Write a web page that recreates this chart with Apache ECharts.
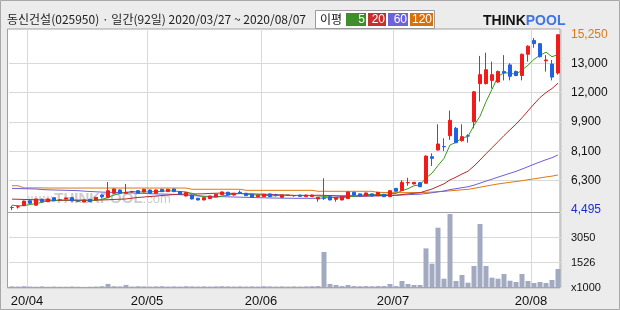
<!DOCTYPE html>
<html><head><meta charset="utf-8">
<script src="https://cdn.jsdelivr.net/npm/echarts@6/dist/echarts.min.js"></script>
<style>html,body{margin:0;padding:0;background:#ececec}#c{width:620px;height:310px}</style>
</head><body><div id="c"></div>
<script>
// ---- data ----
const dates = [
'2020-03-27','2020-03-30','2020-03-31',
'2020-04-01','2020-04-02','2020-04-03','2020-04-06','2020-04-07','2020-04-08','2020-04-09','2020-04-10','2020-04-13','2020-04-14',
'2020-04-16','2020-04-17','2020-04-20','2020-04-21','2020-04-22','2020-04-23','2020-04-24','2020-04-27','2020-04-28','2020-04-29',
'2020-05-04','2020-05-06','2020-05-07','2020-05-08','2020-05-11','2020-05-12','2020-05-13','2020-05-14','2020-05-15','2020-05-18',
'2020-05-19','2020-05-20','2020-05-21','2020-05-22','2020-05-25','2020-05-26','2020-05-27','2020-05-28','2020-05-29',
'2020-06-01','2020-06-02','2020-06-03','2020-06-04','2020-06-05','2020-06-08','2020-06-09','2020-06-10','2020-06-11','2020-06-12',
'2020-06-15','2020-06-16','2020-06-17','2020-06-18','2020-06-19','2020-06-22','2020-06-23','2020-06-24','2020-06-25','2020-06-26',
'2020-06-29','2020-06-30',
'2020-07-01','2020-07-02','2020-07-03','2020-07-06','2020-07-07','2020-07-08','2020-07-09','2020-07-10','2020-07-13','2020-07-14',
'2020-07-15','2020-07-16','2020-07-17','2020-07-20','2020-07-21','2020-07-22','2020-07-23','2020-07-24','2020-07-27','2020-07-28',
'2020-07-29','2020-07-30','2020-07-31',
'2020-08-03','2020-08-04','2020-08-05','2020-08-06','2020-08-07'];
const opens = [
4650,4690,4770,5070,4800,5160,5010,5260,5110,5180,
5260,5060,4990,5160,5120,5420,5280,5530,5730,5530,
5610,5690,5610,5730,5530,5770,5630,5790,5630,5360,
5420,5220,5120,5200,5320,5440,5590,5420,5590,5530,
5470,5320,5320,5490,5430,5280,5400,5380,5420,5320,
5330,5180,5240,5320,5160,5120,5200,5590,5490,5380,
5490,5380,5470,5320,5830,5690,6170,6100,6180,6140,
7770,8180,8400,9060,9510,8750,9050,9920,12250,12250,
12450,12350,13000,13400,13000,12750,14050,14900,14700,13650,
13450,12900];
const closes = [
4660,4700,5050,4915,5180,5010,5180,5070,5120,5240,
5060,5040,5120,5010,5280,5320,5690,5790,5530,5590,
5630,5530,5770,5530,5730,5630,5770,5630,5470,5570,
5180,5120,5260,5360,5470,5610,5420,5530,5530,5380,
5280,5410,5470,5320,5420,5420,5410,5390,5340,5420,
5420,5280,5220,5120,5260,5320,5610,5420,5360,5550,
5360,5590,5320,5690,5650,6200,6190,6200,5930,7810,
7670,8550,8380,10000,8630,9000,9040,11750,12800,13100,
12800,13000,12900,12700,12750,14050,14550,14700,13900,13700,
12650,15250];
const lows = [
4495,4590,4750,4900,4780,4990,5000,5050,5050,5150,
5040,4990,4980,4990,5100,5220,5260,5500,5500,5500,
5570,5500,5590,5500,5510,5600,5610,5600,5440,5340,
5150,5090,5100,5180,5300,5420,5400,5400,5500,5360,
5260,5300,5300,5300,5330,5260,5380,5320,5320,5300,
5310,5010,5120,5100,5010,5100,5180,5400,5340,5360,
5340,5360,5300,5300,5630,5670,5990,6080,5910,6120,
7200,8150,8120,8800,8600,8700,8630,9510,11150,12200,
11950,12300,12450,12450,12700,12450,13600,14450,13850,12990,
12450,12800];
const highs = [
4770,4790,5080,5100,5200,5200,5200,5280,5180,5260,
5280,5100,5140,5180,5300,5450,6220,5820,5760,6100,
5680,5720,5800,5760,5760,5800,5800,5820,5650,5600,
5450,5250,5280,5380,5490,5640,5620,5550,5700,5550,
5490,5430,5490,5510,5500,5440,5430,5420,5440,5440,
5440,5300,6450,5340,5280,5340,5630,5610,5510,5570,
5510,5610,5490,5710,5850,6340,6480,6220,6200,7850,
7980,9760,8900,10600,9600,9760,9150,11800,13950,14150,
13600,13050,14000,13500,13050,14100,14600,15050,14750,14000,
13700,15250];
const ma5 = [
4800,4760,4770,4840,4900,4970,5070,5070,5110,5120,
5130,5110,5110,5090,5100,5150,5280,5420,5520,5580,
5640,5610,5610,5610,5640,5640,5690,5660,5640,5610,
5520,5390,5320,5300,5280,5360,5420,5480,5510,5490,
5430,5430,5410,5370,5380,5410,5410,5390,5400,5400,
5390,5370,5340,5290,5260,5240,5300,5350,5390,5450,
5460,5460,5440,5500,5520,5690,5810,5990,6040,6470,
6760,7230,7670,8490,8650,8920,9010,9690,10250,11140,
11900,12690,12920,12890,12820,13080,13380,13740,13990,14180,
13900,14030];
const ma20 = [
5170,5160,5150,5140,5130,5120,5110,5100,5095,5090,
5090,5090,5095,5100,5110,5120,5130,5150,5165,5180,
5230,5270,5300,5330,5360,5390,5420,5450,5470,5480,
5490,5490,5500,5520,5530,5540,5530,5520,5520,5500,
5490,5480,5470,5460,5440,5430,5410,5400,5390,5390,
5400,5410,5400,5390,5380,5370,5380,5370,5360,5370,
5380,5380,5380,5400,5410,5450,5490,5530,5560,5680,
5790,5950,6110,6350,6520,6710,6880,7200,7570,7950,
8320,8690,9070,9420,9770,10160,10580,11000,11400,11700,
11950,12280];
const ma60 = [
5830,5820,5810,5800,5790,5760,5740,5730,5720,5710,
5700,5690,5660,5640,5620,5600,5590,5580,5570,5560,
5550,5530,5520,5500,5490,5480,5470,5460,5440,5420,
5390,5370,5350,5340,5330,5320,5310,5300,5290,5280,
5270,5260,5250,5240,5235,5230,5225,5222,5220,5220,
5220,5222,5240,5270,5300,5330,5340,5343,5347,5351,
5363,5378,5382,5395,5403,5423,5439,5458,5472,5515,
5558,5617,5671,5755,5810,5872,5928,6027,6149,6274,
6393,6518,6636,6755,6872,7013,7159,7310,7451,7586,
7711,7879];
const ma120 = [
5990,5990,5860,5860,5860,5860,5850,5850,5850,5850,
5850,5850,5850,5850,5850,5850,5850,5850,5850,5850,
5850,5850,5850,5850,5850,5850,5850,5850,5850,5850,
5775,5775,5775,5775,5775,5775,5775,5775,5775,5710,
5710,5710,5710,5710,5710,5710,5710,5710,5710,5710,
5710,5650,5650,5650,5650,5650,5650,5650,5650,5650,
5650,5580,5580,5570,5565,5565,5568,5572,5572,5588,
5603,5626,5645,5680,5710,5740,5770,5830,5900,5970,
6035,6100,6150,6200,6250,6300,6360,6415,6470,6530,
6580,6650];
const volumes = [
80,70,90,70,60,80,60,70,60,60,
70,60,50,60,70,90,230,90,80,170,
70,90,80,70,80,90,70,80,70,90,
80,70,80,70,80,90,80,70,80,70,
80,70,90,80,70,80,70,80,70,80,
90,100,2180,230,165,100,165,100,90,100,
90,100,100,226,100,409,226,165,165,2400,
1464,3660,549,4496,409,775,305,1324,3886,1324,
610,549,836,427,348,836,409,287,348,287,
470,1141];
const monthTicks = ['2020-04-01','2020-05-04','2020-06-01','2020-07-01','2020-08-03'];
const monthLabels = ['20/04','20/05','20/06','20/07','20/08'];
const priceGridValues = [6300,8100,9900,11700,13500];
const priceLabelValues = [4495,6300,8100,9900,11700,13500,15250];
const priceLabelTexts = ['4,495','6,300','8,100','9,900','12,000','13,000','15,250'];
const volTickValues = [0,1525,3050];
const volTickLabels = ['x1000','1526','3050'];
const title = '동신건설(025950) · 일간(92일) 2020/03/27 ~ 2020/08/07';

// ---- chart ----
const NUM = '"Liberation Sans", Arial, sans-serif';
const KR = '"Noto Sans CJK KR", sans-serif';
const chart = echarts.init(document.getElementById('c'), null, {renderer:'canvas'});
const catSplit = {show:true, interval:(i,v)=>monthTicks.includes(v), lineStyle:{color:'#d9d9d9', width:1}};
const option = {
  animation:false,
  backgroundColor:'#ececec',
  grid:[
    {left:9, width:552, top:29, height:183.5, outerBoundsMode:'none', containLabel:false},
    {left:9, width:552, top:212.7, height:75, outerBoundsMode:'none', containLabel:false}
  ],
  xAxis:[
    {type:'category', gridIndex:0, data:dates, boundaryGap:true,
     axisLine:{show:false}, axisTick:{show:false}, axisLabel:{show:false}, splitLine:catSplit},
    {type:'category', gridIndex:1, data:dates, boundaryGap:true,
     axisLine:{show:false}, axisTick:{show:false}, splitLine:catSplit,
     axisLabel:{show:true, interval:(i,v)=>monthTicks.includes(v),
       formatter:v=>monthLabels[monthTicks.indexOf(v)], margin:7,
       fontFamily:NUM, fontSize:13, color:'#111', padding:[0,6,0,0]}}
  ],
  yAxis:[
    {type:'value', gridIndex:0, position:'right', min:4350, max:15600,
     axisLine:{show:false}, axisTick:{show:false, customValues:priceGridValues},
     splitLine:{show:true, lineStyle:{color:'#d9d9d9'}},
     axisLabel:{customValues:priceLabelValues, margin:10, fontFamily:NUM, fontSize:12, color:'#111',
       formatter:v=>{const k=priceLabelValues.indexOf(v); const t=priceLabelTexts[k];
         if(k===priceLabelValues.length-1) return '{o|'+t+'}';
         if(k===0) return '{b|'+t+'}'; return t;},
       rich:{o:{color:'#dd7a14', fontFamily:NUM, fontSize:12}, b:{color:'#1a2fd0', fontFamily:NUM, fontSize:12}}}},
    {type:'value', gridIndex:1, position:'right', min:0, max:4575, interval:1525,
     axisLine:{show:false}, axisTick:{show:false},
     splitLine:{show:true, lineStyle:{color:'#d9d9d9'}},
     axisLabel:{margin:10, fontFamily:NUM, fontSize:11, color:'#111', showMaxLabel:false,
       formatter:v=>{const k=volTickValues.indexOf(v); return k<0?'':volTickLabels[k];}}}
  ],
  series:[
    {type:'line', name:'MA120', xAxisIndex:0, yAxisIndex:0, data:ma120, symbol:'none', z:3,
     lineStyle:{color:'#e07810', width:1}},
    {type:'line', name:'MA60', xAxisIndex:0, yAxisIndex:0, data:ma60, symbol:'none', z:3,
     lineStyle:{color:'#6a5fe0', width:1}},
    {type:'line', name:'MA20', xAxisIndex:0, yAxisIndex:0, data:ma20, symbol:'none', z:3,
     lineStyle:{color:'#b82a2a', width:1}},
    {type:'line', name:'MA5', xAxisIndex:0, yAxisIndex:0, data:ma5, symbol:'none', z:3,
     lineStyle:{color:'#3a9a20', width:1}},
    {type:'candlestick', xAxisIndex:0, yAxisIndex:0, z:5, barWidth:4,
     data:dates.map((d,i)=>[opens[i],closes[i],lows[i],highs[i]]),
     itemStyle:{color:'#f01c1c', color0:'#2062e4', borderColor:'#f01c1c', borderColor0:'#2062e4', borderWidth:1}},
    {type:'bar', xAxisIndex:1, yAxisIndex:1, data:volumes, barWidth:5,
     itemStyle:{color:'#a2aac2'}}
  ],
  graphic:[
    {type:'rect', z:-100, shape:{x:7.5, y:29, width:552.5, height:258.7},
     style:{fill:'#ffffff', stroke:'#a0a0a0', lineWidth:1}},
    {type:'line', z:50, shape:{x1:7.5, y1:212.5, x2:560, y2:212.5}, style:{stroke:'#a0a0a0', lineWidth:1}},
    {type:'line', z:50, shape:{x1:7.5, y1:287.7, x2:560, y2:287.7}, style:{stroke:'#a0a0a0', lineWidth:1}},
    {type:'text', z:-50, x:28, y:199,
     style:{text:'{a|www.}{b|THINKPOOL}{c|.com}', verticalAlign:'middle',
       rich:{a:{font:'11px '+NUM, fill:'#cccccc'}, b:{font:'bold 15px '+NUM, fill:'#cccccc'}, c:{font:'13px '+NUM, fill:'#cccccc'}}}},
    {type:'rect', shape:{x:0.5, y:0.5, width:619, height:309}, style:{fill:null, stroke:'#a8a8a8', lineWidth:1}},
    {type:'text', x:7, y:19, style:{text:title, font:'12px '+KR, fill:'#222', verticalAlign:'middle'}},
    {type:'rect', shape:{x:315.5, y:10.5, width:119, height:18}, style:{fill:'#ffffff', stroke:'#9a9a9a', lineWidth:1}},
    {type:'text', x:320, y:19.5, style:{text:'이평', font:'12px '+KR, fill:'#111', verticalAlign:'middle'}},
    {type:'rect', shape:{x:346, y:13, width:20, height:13}, style:{fill:'#3e8e2a'}},
    {type:'text', x:365, y:19.5, style:{text:'5', font:'12px '+NUM, fill:'#fff', align:'right', verticalAlign:'middle'}},
    {type:'rect', shape:{x:368, y:13, width:18, height:13}, style:{fill:'#c8302c'}},
    {type:'text', x:385, y:19.5, style:{text:'20', font:'12px '+NUM, fill:'#fff', align:'right', verticalAlign:'middle'}},
    {type:'rect', shape:{x:388, y:13, width:20, height:13}, style:{fill:'#6e62dc'}},
    {type:'text', x:407, y:19.5, style:{text:'60', font:'12px '+NUM, fill:'#fff', align:'right', verticalAlign:'middle'}},
    {type:'rect', shape:{x:410, y:13, width:23, height:13}, style:{fill:'#d9700a'}},
    {type:'text', x:432, y:19.5, style:{text:'120', font:'12px '+NUM, fill:'#fff', align:'right', verticalAlign:'middle'}},
    {type:'text', x:483, y:21, style:{text:'{t|THINK}{p|POOL}', verticalAlign:'middle',
       rich:{t:{font:'bold 14px '+NUM, fill:'#111'}, p:{font:'bold 14px '+NUM, fill:'#3f74e6'}}}}
  ]
};
chart.setOption(option);
</script>
</body></html>
